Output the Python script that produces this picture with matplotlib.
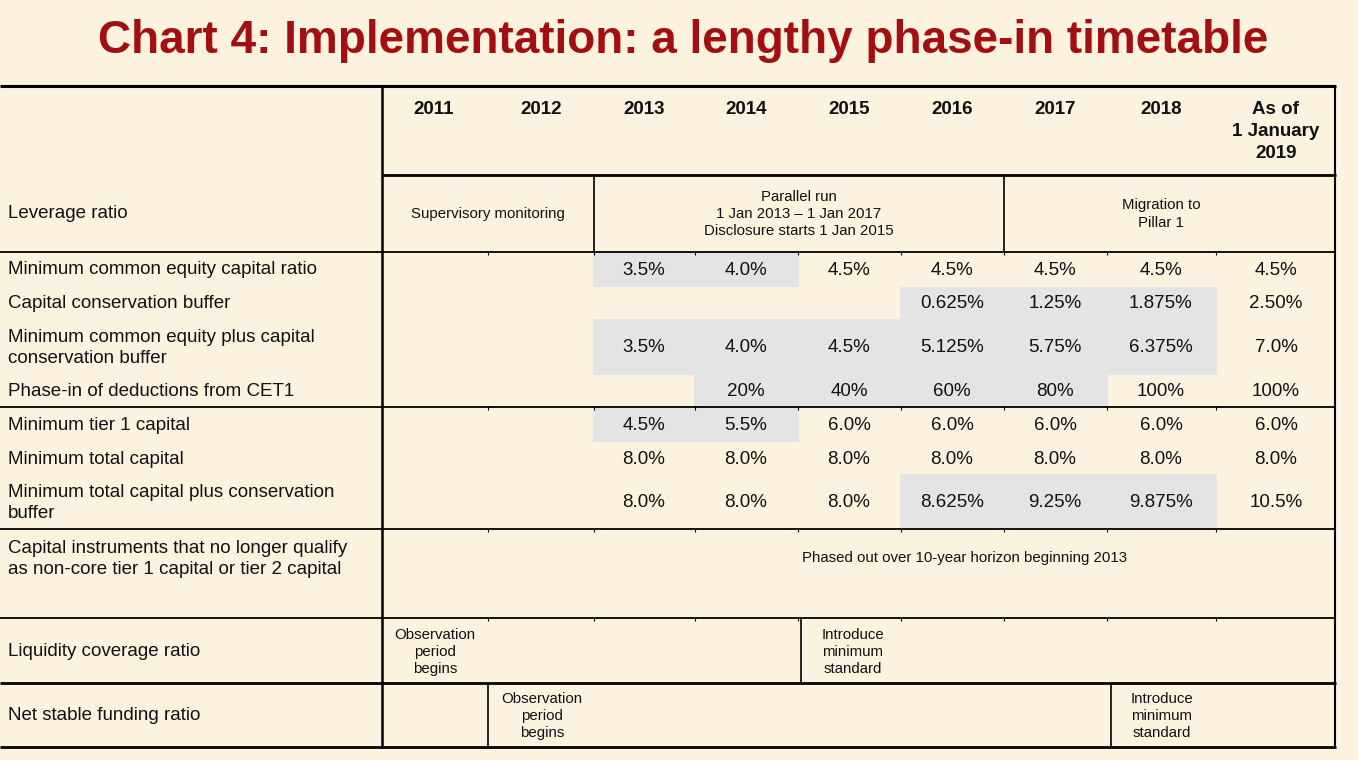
import matplotlib
matplotlib.use("Agg")
import matplotlib.pyplot as plt
from matplotlib.patches import Rectangle

# ---------------- data ----------------
title = "Chart 4: Implementation: a lengthy phase-in timetable"
years = ["2011", "2012", "2013", "2014", "2015", "2016", "2017", "2018", "As of\n1 January\n2019"]

row_labels = [
    "Leverage ratio",
    "Minimum common equity capital ratio",
    "Capital conservation buffer",
    "Minimum common equity plus capital\nconservation buffer",
    "Phase-in of deductions from CET1",
    "Minimum tier 1 capital",
    "Minimum total capital",
    "Minimum total capital plus conservation\nbuffer",
    "Capital instruments that no longer qualify\nas non-core tier 1 capital or tier 2 capital",
    "Liquidity coverage ratio",
    "Net stable funding ratio",
]

min_ce = ["", "", "3.5%", "4.0%", "4.5%", "4.5%", "4.5%", "4.5%", "4.5%"]
cons_buffer = ["", "", "", "", "", "0.625%", "1.25%", "1.875%", "2.50%"]
min_ce_plus = ["", "", "3.5%", "4.0%", "4.5%", "5.125%", "5.75%", "6.375%", "7.0%"]
phase_in = ["", "", "", "20%", "40%", "60%", "80%", "100%", "100%"]
min_t1 = ["", "", "4.5%", "5.5%", "6.0%", "6.0%", "6.0%", "6.0%", "6.0%"]
min_total = ["", "", "8.0%", "8.0%", "8.0%", "8.0%", "8.0%", "8.0%", "8.0%"]
min_total_plus = ["", "", "8.0%", "8.0%", "8.0%", "8.625%", "9.25%", "9.875%", "10.5%"]

# shaded (grey) cells per value row: (first column index, last column index)
shade_min_ce = (2, 3)
shade_cons = (5, 7)
shade_ce_plus = (2, 7)
shade_phase = (3, 6)
shade_t1 = (2, 3)
shade_total_plus = (5, 7)

leverage_texts = ["Supervisory monitoring",
                  "Parallel run\n1 Jan 2013 \u2013 1 Jan 2017\nDisclosure starts 1 Jan 2015",
                  "Migration to\nPillar 1"]
phased_out_text = "Phased out over 10-year horizon beginning 2013"
obs_text = "Observation\nperiod\nbegins"
intro_text = "Introduce\nminimum\nstandard"

# ---------------- layout ----------------
W, H = 1358, 760
BG = "#FBF3DF"
GREY = "#E4E4E4"
RED = "#A30E12"
col_edges = [382, 488, 594, 695, 798, 901, 1004, 1107, 1216, 1335]
col_centers = [434, 541, 644, 746, 849, 952, 1055, 1161, 1276]

plt.rcParams['font.family'] = ['Liberation Sans', 'DejaVu Sans']
fig = plt.figure(figsize=(W / 100, H / 100), dpi=100)
fig.patch.set_facecolor(BG)
ax = fig.add_axes([0, 0, 1, 1])
ax.set_xlim(0, W)
ax.set_ylim(H, 0)
ax.axis("off")
ax.set_facecolor(BG)

ax.text(683, 41, title, ha="center", va="center", fontsize=33, fontweight="bold", color=RED)

FS = 13.5
TXT = "#111111"

# grey shading
value_rows = [
    (min_ce, shade_min_ce, 252, 287),
    (cons_buffer, shade_cons, 287, 319),
    (min_ce_plus, shade_ce_plus, 319, 375),
    (phase_in, shade_phase, 375, 407),
    (min_t1, shade_t1, 407, 442),
    (min_total, None, 442, 474),
    (min_total_plus, shade_total_plus, 474, 529),
]
for vals, sh, y0, y1 in value_rows:
    if sh is not None:
        x0 = col_edges[sh[0]] - 1
        x1 = col_edges[sh[1] + 1] + 1
        ax.add_patch(Rectangle((x0, y0), x1 - x0, y1 - y0, facecolor=GREY, edgecolor="none", zorder=1))
    yc = (y0 + y1) / 2 + 1
    for i, v in enumerate(vals):
        if v:
            ax.text(col_centers[i], yc, v, ha="center", va="center", fontsize=FS, color=TXT, zorder=3)

# header years
for i, yr in enumerate(years):
    ax.text(col_centers[i], 101, yr, ha="center", va="top", fontsize=FS, fontweight="bold",
            color=TXT, linespacing=1.4)

# row labels
label_y = [214, 270, 304, 348, 391, 425, 459, 503, 559, 652, 716]
for lab, y in zip(row_labels, label_y):
    ax.text(8, y, lab, ha="left", va="center", fontsize=FS, color=TXT, linespacing=1.35)

small = 10.8
ls_small = 1.3
# leverage ratio texts
ax.text(488, 214, leverage_texts[0], ha="center", va="center", fontsize=small, color=TXT)
ax.text(799, 214, leverage_texts[1], ha="center", va="center", fontsize=small, color=TXT, linespacing=ls_small)
ax.text(1161, 214, leverage_texts[2], ha="center", va="center", fontsize=small, color=TXT, linespacing=ls_small)
# phased out
ax.text(965, 558, phased_out_text, ha="center", va="center", fontsize=small, color=TXT)
# liquidity / funding
ax.text(435, 652, obs_text, ha="center", va="center", fontsize=small, color=TXT, linespacing=ls_small)
ax.text(853, 652, intro_text, ha="center", va="center", fontsize=small, color=TXT, linespacing=ls_small)
ax.text(542, 716, obs_text, ha="center", va="center", fontsize=small, color=TXT, linespacing=ls_small)
ax.text(1162, 716, intro_text, ha="center", va="center", fontsize=small, color=TXT, linespacing=ls_small)

# lines
K = "#000000"
def hline(y, x0, x1, lw):
    ax.plot([x0, x1], [y, y], color=K, lw=lw, solid_capstyle="butt", zorder=4)
def vline(x, y0, y1, lw):
    ax.plot([x, x], [y0, y1], color=K, lw=lw, solid_capstyle="butt", zorder=4)

hline(86, 0, 1336, 2.2)
hline(175, 382, 1336, 2.0)
for y in [252, 407, 529, 618]:
    hline(y, 0, 1336, 1.3)
hline(683, 0, 1336, 2.0)
hline(747, 0, 1336, 2.0)
vline(382, 86, 748, 1.8)
vline(1335, 86, 748, 1.5)
vline(594, 175, 252, 1.2)
vline(1004, 175, 252, 1.2)
vline(801, 618, 683, 1.2)
vline(488, 683, 747, 1.2)
vline(1111, 683, 747, 1.2)

# tiny tick marks at column edges on inner horizontal rules
for y in [252, 407, 529, 618]:
    for x in col_edges[1:-1]:
        vline(x, y - 1, y + 3, 0.8)

fig.savefig("out.png", dpi=100, facecolor=BG)
